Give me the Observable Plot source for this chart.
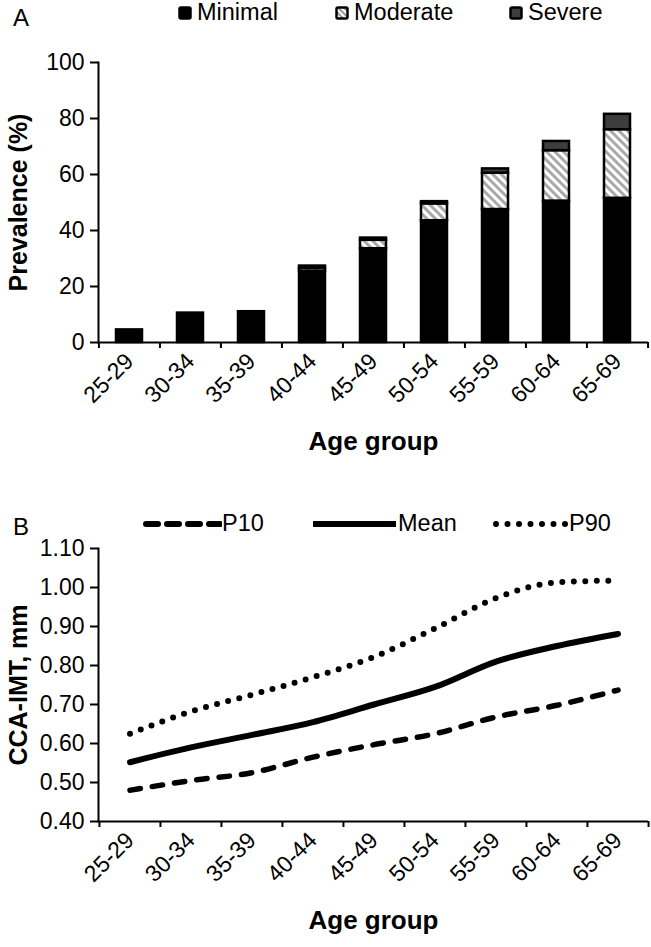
<!DOCTYPE html>
<html><head><meta charset="utf-8">
<script src="https://cdn.jsdelivr.net/npm/d3@7"></script>
<script src="https://cdn.jsdelivr.net/npm/@observablehq/plot@0.6"></script>
<style>
body{margin:0;background:#fff;font-family:"Liberation Sans",Arial,sans-serif;color:#000;}
#wrap{position:relative;width:651px;height:947px;overflow:hidden;}
.abs{position:absolute;}
.letter{font-size:24px;line-height:1;}
.leg{font-size:23.5px;line-height:1;display:flex;align-items:center;white-space:nowrap;}
</style></head><body><div id="wrap"></div>
<script>
// ---- data ----
const ageGroups = ["25-29","30-34","35-39","40-44","45-49","50-54","55-59","60-64","65-69"];
const seriesNames = ["Minimal","Moderate","Severe"];
const minimal  = [4.5, 10.5, 11.0, 25.5, 33.5, 43.5, 47.5, 50.5, 51.5];
const moderate = [0,   0,    0,    1.0,  3.0,  6.0,  13.0, 18.0, 24.5];
const severe   = [0,   0,    0,    0.8,  0.8,  0.8,  1.5,  3.3,  5.5];
const yTicksA = [0, 20, 40, 60, 80, 100];

const lineNames = ["P10","Mean","P90"];
const p10     = [0.48, 0.505, 0.525, 0.565, 0.597, 0.625, 0.668, 0.698, 0.737];
const meanIMT = [0.552, 0.59, 0.622, 0.655, 0.70, 0.745, 0.81, 0.85, 0.881];
const p90     = [0.625, 0.682, 0.725, 0.77, 0.822, 0.895, 0.973, 1.013, 1.018];
const yTicksB = [0.40, 0.50, 0.60, 0.70, 0.80, 0.90, 1.00, 1.10];

const FONT = '"Liberation Sans", Arial, sans-serif';
const W = 651;
const wrap = document.getElementById("wrap");

function hatchDefs(svgSel, id) {
  const defs = svgSel.insert("defs", ":first-child");
  const pat = defs.append("pattern").attr("id", id).attr("patternUnits", "userSpaceOnUse")
    .attr("width", 6).attr("height", 6).attr("patternTransform", "rotate(-45)");
  pat.append("rect").attr("width", 6).attr("height", 6).attr("fill", "#fff");
  pat.append("rect").attr("width", 3).attr("height", 6).attr("fill", "#a9a9a9");
}
function stripArrows(svg) {
  d3.select(svg).selectAll("text, tspan").each(function () {
    if (this.childNodes.length === 1 && this.firstChild.nodeType === 3) {
      this.textContent = this.textContent.replace(/\s*[↑↓←→]\s*/g, "");
    }
  });
}

const axisStyle = {fontFamily: FONT, fontSize: "23px", color: "#000", background: "transparent", overflow: "visible"};

// ---- Panel A ----
const barData = seriesNames.flatMap((s, k) =>
  ageGroups.map((g, i) => ({group: g, series: s, value: [minimal, moderate, severe][k][i]})));
const mlA = 98, mrA = 3;
const stepA = (W - mlA - mrA) / ageGroups.length;
const chartA = Plot.plot({
  width: W, height: 430, marginLeft: mlA, marginRight: mrA, marginTop: 22, marginBottom: 128,
  style: axisStyle,
  x: {type: "band", domain: ageGroups, paddingInner: 0.575, paddingOuter: 0.2875, label: null},
  y: {domain: [0, 100], label: null},
  color: {type: "ordinal", domain: seriesNames, range: ["#000", "url(#hatchA)", "#3d3d3d"]},
  marks: [
    Plot.barY(barData, {x: "group", y: "value", fill: "series", stroke: "#000", strokeWidth: 2.5, order: seriesNames}),
    Plot.ruleY([0], {stroke: "#000", strokeWidth: 2}),
    Plot.frame({anchor: "left", stroke: "#000", strokeWidth: 2}),
    Plot.axisY({ticks: yTicksA, tickSize: 8, tickPadding: 6, strokeWidth: 2, label: null}),
    Plot.axisY({ticks: [], label: "Prevalence (%)", labelArrow: false, labelAnchor: "center", labelOffset: 89, fontWeight: "bold", fontSize: "25px"}),
    Plot.axisX({tickSize: 0, tickRotate: -45, tickPadding: 15, label: null}),
    Plot.axisX({tickSize: 6, tickFormat: () => "", dx: -stepA / 2, strokeWidth: 2, label: null}),
    Plot.axisX({ticks: [ageGroups[ageGroups.length - 1]], tickSize: 6, tickFormat: () => "", dx: stepA / 2, strokeWidth: 2, label: null}),
    Plot.axisX({ticks: [], label: "Age group", labelArrow: false, labelAnchor: "center", labelOffset: 107, fontWeight: "bold", fontSize: "26px"})
  ]
});
hatchDefs(d3.select(chartA), "hatchA");
stripArrows(chartA);
chartA.style.position = "absolute"; chartA.style.left = "0px"; chartA.style.top = "40px";
wrap.appendChild(chartA);

// ---- Panel B ----
const lineData = lineNames.flatMap((s, k) =>
  ageGroups.map((g, i) => ({group: g, series: s, value: [p10, meanIMT, p90][k][i]})));
const mlB = 98, mrB = 3;
const stepB = (W - mlB - mrB) / ageGroups.length;
const chartB = Plot.plot({
  width: W, height: 447, marginLeft: mlB, marginRight: mrB, marginTop: 48, marginBottom: 126,
  style: axisStyle,
  x: {type: "band", domain: ageGroups, paddingInner: 0, paddingOuter: 0, label: null},
  y: {domain: [0.4, 1.1], label: null},
  marks: [
    Plot.ruleY([0.4], {stroke: "#000", strokeWidth: 2}),
    Plot.frame({anchor: "left", stroke: "#000", strokeWidth: 2}),
    Plot.line(lineData.filter(d => d.series === "P10"), {x: "group", y: "value", stroke: "#000", strokeWidth: 5.5, strokeDasharray: "10.5 12", strokeLinecap: "round", curve: "monotone-x"}),
    Plot.line(lineData.filter(d => d.series === "Mean"), {x: "group", y: "value", stroke: "#000", strokeWidth: 6, curve: "monotone-x"}),
    Plot.line(lineData.filter(d => d.series === "P90"), {x: "group", y: "value", stroke: "#000", strokeWidth: 6, strokeDasharray: "0 11.5", strokeLinecap: "round", curve: "monotone-x"}),
    Plot.axisY({ticks: yTicksB, tickFormat: d3.format(".2f"), tickSize: 8, tickPadding: 6, strokeWidth: 2, label: null}),
    Plot.axisY({ticks: [], label: "CCA-IMT, mm", labelArrow: false, labelAnchor: "center", labelOffset: 89, fontWeight: "bold", fontSize: "25px"}),
    Plot.axisX({tickSize: 0, tickRotate: -45, tickPadding: 15, label: null}),
    Plot.axisX({tickSize: 6, tickFormat: () => "", dx: -stepB / 2, strokeWidth: 2, label: null}),
    Plot.axisX({ticks: [ageGroups[ageGroups.length - 1]], tickSize: 6, tickFormat: () => "", dx: stepB / 2, strokeWidth: 2, label: null}),
    Plot.axisX({ticks: [], label: "Age group", labelArrow: false, labelAnchor: "center", labelOffset: 107, fontWeight: "bold", fontSize: "26px"})
  ]
});
stripArrows(chartB);
chartB.style.position = "absolute"; chartB.style.left = "0px"; chartB.style.top = "500px";
wrap.appendChild(chartB);

// ---- letters & legends ----
function addDiv(cls, left, top, html) {
  const d = document.createElement("div");
  d.className = "abs " + cls; d.style.left = left + "px"; d.style.top = top + "px";
  d.innerHTML = html; wrap.appendChild(d); return d;
}
addDiv("letter", 13, 6, "A");
addDiv("letter", 13, 515, "B");

const swatchFill = ["#000", "url(#hatchL)", "#3d3d3d"];
const legAx = [178, 335, 509];
seriesNames.forEach((s, k) => {
  const sw = `<svg width="17" height="14" style="margin-right:2px"><defs><pattern id="hatchL" patternUnits="userSpaceOnUse" width="4" height="4" patternTransform="rotate(-45)"><rect width="4" height="4" fill="#fff"/><rect width="2" height="4" fill="#999"/></pattern></defs><rect x="1.5" y="1.5" width="11" height="11" rx="1.5" fill="${swatchFill[k]}" stroke="#000" stroke-width="2.5"/></svg>`;
  addDiv("leg", legAx[k], 1, sw + s);
});

const legBx = [143, 310, 493];
const legBw = [79, 88, 76];
const dashes = ["12 9", null, "0 11.5"];
lineNames.forEach((s, k) => {
  const da = dashes[k] ? `stroke-dasharray="${dashes[k]}"` : "";
  const cap = k === 1 ? "butt" : "round";
  const w = legBw[k];
  const sw = `<svg width="${w}" height="12"><line x1="3" x2="${w - 2}" y1="6" y2="6" stroke="#000" stroke-width="6" stroke-linecap="${cap}" ${da}/></svg>`;
  addDiv("leg", legBx[k], 512, sw + s);
});
</script></body></html>
